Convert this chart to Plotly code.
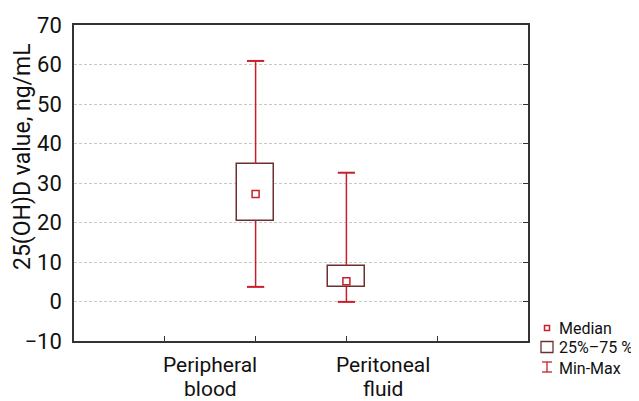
import plotly.graph_objects as go

categories = [["Peripheral", "blood"], ["Peritoneal", "fluid"]]
positions = [2, 3]
label_positions = [1.5, 3.4]
mins = [3.7, -0.1]
q1s = [20.4, 3.7]
medians = [27.2, 5.1]
q3s = [34.8, 9.0]
maxs = [60.9, 32.6]
legend_labels = ["Median", "25%–75 %", "Min-Max"]
y_title = "25(OH)D value, ng/mL"

WHISKER = "#c8202a"
BOXLINE = "#6e2f2f"
FONT = "Roboto, sans-serif"
box_w = 0.4
cap_w = 0.19

# screen geometry (page has an 8px body margin)
OFF = 8
SW, SH = 639, 401
W, H = SW - OFF, SH - OFF
L, R, T, B = 74, 528, 25, 341  # plot area in screen pixels


def px(x):
    return (x - L) / (R - L)


def py(y):
    return (B - y) / (B - T)


fig = go.Figure()

# boxes
fig.add_trace(go.Bar(x=positions, y=[b - a for a, b in zip(q1s, q3s)], base=q1s, width=box_w,
                     marker=dict(color="white", line=dict(color=BOXLINE, width=1.5)),
                     showlegend=False, hoverinfo="skip"))

# whiskers and caps
wx, wy, cx, cy = [], [], [], []
for p, lo, a, b, hi in zip(positions, mins, q1s, q3s, maxs):
    wx += [p, p, None, p, p, None]
    wy += [b, hi, None, a, lo, None]
    cx += [p - cap_w / 2, p + cap_w / 2, None, p - cap_w / 2, p + cap_w / 2, None]
    cy += [hi, hi, None, lo, lo, None]
fig.add_trace(go.Scatter(x=wx, y=wy, mode="lines", line=dict(color=WHISKER, width=1.5),
                         showlegend=False, hoverinfo="skip"))
fig.add_trace(go.Scatter(x=cx, y=cy, mode="lines", line=dict(color=WHISKER, width=2),
                         showlegend=False, hoverinfo="skip"))

# medians
fig.add_trace(go.Scatter(x=positions, y=medians, mode="markers",
                         marker=dict(symbol="square-open", size=7, color=WHISKER,
                                     line=dict(width=1.5, color=WHISKER)),
                         showlegend=False))

# invisible trace for right axis
fig.add_trace(go.Scatter(x=[positions[0]], y=[medians[0]], yaxis="y2", mode="markers",
                         marker=dict(opacity=0), showlegend=False, hoverinfo="skip"))

# category labels (two lines each)
line_y = [365, 389]
for lp, lines in zip(label_positions, categories):
    for ly, t in zip(line_y, lines):
        fig.add_annotation(x=lp, y=py(ly), xref="x", yref="paper", yanchor="middle",
                           text=t, showarrow=False, font=dict(family=FONT, size=21, color="#111"))

# y title
fig.add_annotation(x=px(22), y=py(157), xref="paper", yref="paper", xanchor="center",
                   yanchor="middle", textangle=-90, text=y_title, showarrow=False,
                   font=dict(family=FONT, size=23, color="#111"))

# legend (manual)
leg_x_txt = 557
rows = [328, 348, 368]
for r, t in zip(rows, legend_labels):
    fig.add_annotation(x=px(leg_x_txt), y=py(r), xref="paper", yref="paper", xanchor="left",
                       yanchor="middle", text=t, showarrow=False,
                       font=dict(family=FONT, size=16, color="#111"))
fig.add_shape(type="rect", xref="paper", yref="paper", x0=px(544.5), x1=px(549.5),
              y0=py(330.5), y1=py(325.5), line=dict(color=WHISKER, width=1.5), fillcolor="white")
fig.add_shape(type="rect", xref="paper", yref="paper", x0=px(541), x1=px(553),
              y0=py(352.5), y1=py(341.5), line=dict(color=BOXLINE, width=1.3), fillcolor="white")
for seg in [((542, 362), (552, 362)), ((547, 362), (547, 372)), ((542, 372), (552, 372))]:
    fig.add_shape(type="line", xref="paper", yref="paper", x0=px(seg[0][0]), y0=py(seg[0][1]),
                  x1=px(seg[1][0]), y1=py(seg[1][1]), line=dict(color=WHISKER, width=1.3))

fig.update_layout(
    width=W, height=H,
    margin=dict(l=L - OFF, r=W - (R - OFF), t=T - OFF, b=H - (B - OFF), autoexpand=False),
    paper_bgcolor="white", plot_bgcolor="white",
    font=dict(family=FONT, color="#111"),
    xaxis=dict(range=[0, 5], tickvals=[1, 2, 3, 4], ticktext=["", "", "", ""], ticks="inside",
               ticklen=5, tickcolor="#333", showgrid=False, zeroline=False, automargin=False,
               showline=True, linecolor="#333", linewidth=1.5, mirror=True),
    yaxis=dict(range=[-10, 70], dtick=10, ticks="", showgrid=True, gridcolor="#c8c8c8",
               griddash="3px,2px", gridwidth=1, zeroline=False, showline=True, linecolor="#333",
               linewidth=1.5, mirror=True, automargin=False, ticklabelstandoff=6,
               tickfont=dict(size=22, family=FONT, color="#111")),
    yaxis2=dict(range=[-10, 70], dtick=10, overlaying="y", side="right", ticks="inside",
                ticklen=5, tickcolor="#333", showticklabels=False, showgrid=False,
                zeroline=False, showline=False, automargin=False),
    bargap=0,
)

fig.write_html("out.html")
